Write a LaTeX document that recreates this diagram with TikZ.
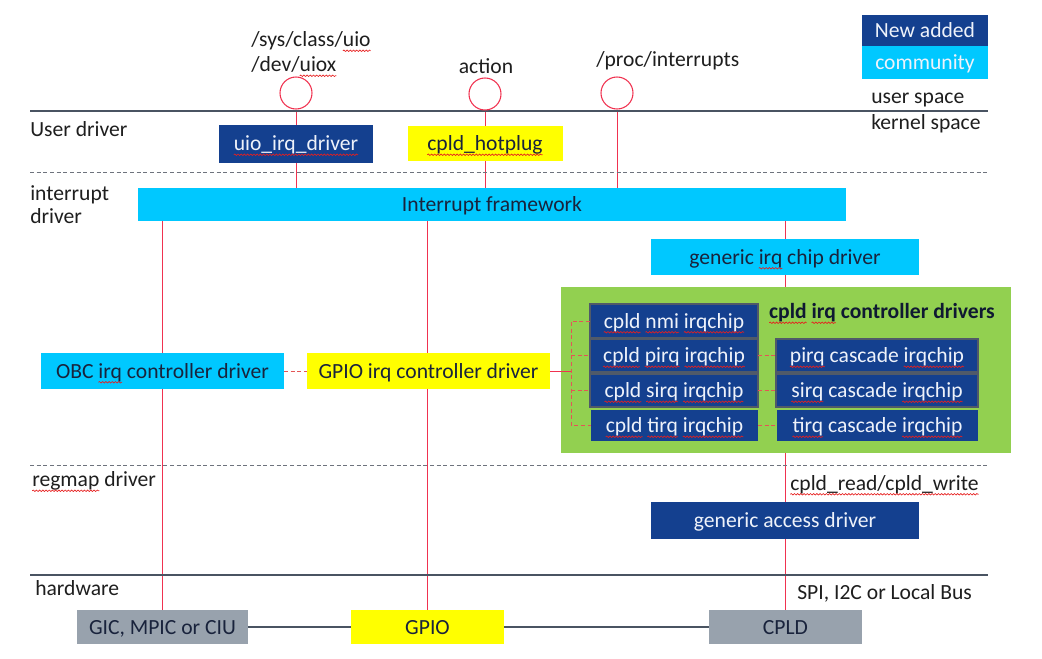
\documentclass[tikz,border=0pt]{standalone}
\usepackage{fontspec}
\setmainfont{Carlito}
\usetikzlibrary{decorations.pathmorphing}
\definecolor{navy}{RGB}{20,64,143}
\definecolor{cyanb}{RGB}{0,200,255}
\definecolor{yellowb}{RGB}{255,255,0}
\definecolor{greenb}{RGB}{146,208,80}
\definecolor{grayb}{RGB}{152,162,173}
\definecolor{linec}{RGB}{74,84,98}
\definecolor{dashc}{RGB}{110,115,125}
\definecolor{redc}{RGB}{240,50,80}
\definecolor{salmon}{RGB}{228,85,85}
\definecolor{framec}{RGB}{80,90,105}
\definecolor{boxtext}{RGB}{238,242,250}
\definecolor{dtext}{RGB}{25,35,60}
\definecolor{ltext}{RGB}{30,30,30}
\definecolor{titlec}{RGB}{15,25,50}
\definecolor{wavered}{RGB}{230,30,30}
\newsavebox\rwbox
\newcommand\rw[1]{\sbox\rwbox{#1}\rlap{\usebox\rwbox}\tikz[baseline=0pt]{\path[use as bounding box] (0pt,0pt) rectangle (\wd\rwbox,0pt);\draw[draw=wavered, fill=none, line width=0.5pt, decorate, decoration={snake, amplitude=0.55pt, segment length=2.4pt}] (0pt,-3.2pt) -- (\wd\rwbox,-3.2pt);}}
\pgfdeclarelayer{bg}
\pgfsetlayers{bg,main}
\tikzset{
  pb/.style 2 args={minimum width=#1*0.75pt, minimum height=#2*0.75pt, inner sep=0pt, outer sep=0pt, text height=12.5pt, text depth=2pt},
  nb/.style={fill=navy, text=boxtext},
  cy/.style={fill=cyanb, text=dtext},
  ye/.style={fill=yellowb, text=dtext},
  gy/.style={fill=grayb, text=dtext},
  chip/.style={fill=navy, text=boxtext, draw=framec, line width=1.5pt},
  chipn/.style={fill=navy, text=boxtext},
  lbl/.style={text=ltext, inner sep=0pt, anchor=base west},
  redl/.style={draw=redc, line width=0.75pt},
  redd/.style={draw=salmon, line width=0.75pt, dash pattern=on 3pt off 2pt},
  sepl/.style={draw=linec, line width=1.5pt},
  sepd/.style={draw=dashc, line width=0.75pt, dash pattern=on 3pt off 2pt},
  hwl/.style={draw=linec, line width=0.9pt},
  ring/.style={circle, draw=redc, line width=0.8pt, minimum size=32*0.75pt, inner sep=0pt}
}
\begin{document}
\begin{tikzpicture}[x=0.75pt, y=-0.75pt, font=\fontsize{16.2}{19}\selectfont]
\useasboundingbox (0,0) rectangle (1042,658);

% separators
\draw[sepl] (30,111) -- (988,111);
\draw[sepd] (30,172) -- (988,172);
\draw[sepd] (30,465) -- (988,465);
\draw[draw=linec, line width=2.2pt] (30,575) -- (988,575);

% legend
\node[nb, pb={126}{31}] (lnew) at (925,30.5) {New added};
\node[cy, pb={126}{33}, text=boxtext] (lcom) at (925,62.5) {community};
\node[lbl] (us) at (871,103) {user space};
\node[lbl] (ks) at (871,129) {kernel space};

% layer labels
\node[lbl] (ud) at (30,136.5) {User driver};
\node[lbl] (id1) at (30,200.5) {interrupt};
\node[lbl] (id2) at (30,223) {driver};
\node[lbl] (rd) at (32,486.5) {\rw{regmap} driver};
\node[lbl] (hw) at (35,595) {hardware};

% top labels and rings
\node[lbl] (t1) at (251,46.5) {/sys/class/\rw{uio}};
\node[lbl] (t2) at (251,71.5) {/dev/\rw{uiox}};
\node[text=ltext, inner sep=0pt, anchor=base] (t3) at (486,73) {action};
\node[lbl] (t4) at (596,66.5) {/proc/interrupts};
\node[ring] (c1) at (296,93) {};
\node[ring] (c2) at (485,94) {};
\node[ring] (c3) at (617,93) {};

% user drivers
\node[nb, pb={154}{38}] (uio) at (296,143.5) {\rw{uio\_irq\_driver}};
\node[ye, pb={155}{35}] (hp) at (485,143.5) {\rw{cpld\_hotplug}};

% framework
\node[cy, pb={708}{33}] (fw) at (492,204.5) {Interrupt framework};
\node[cy, pb={268}{36}] (gicd) at (785,257) {generic \rw{irq} chip driver};

% green group
\node[fill=greenb, pb={450}{166}] (grp) at (786,370) {};
\node[text=titlec, inner sep=0pt, anchor=base, font=\fontsize{16.2}{19}\selectfont\bfseries] (ttl) at (882,318.5) {\rw{cpld} \rw{irq} controller drivers};
\node[chip, pb={168}{34}] (nmi) at (674,321) {\rw{cpld} \rw{nmi} \rw{irqchip}};
\node[chip, pb={168}{33}] (pirq) at (674,355.5) {\rw{cpld} \rw{pirq} \rw{irqchip}};
\node[chip, pb={168}{33}] (sirq) at (674,390.5) {\rw{cpld} \rw{sirq} \rw{irqchip}};
\node[chipn, pb={167}{31}] (tirq) at (674.5,425.5) {\rw{cpld} \rw{tirq} \rw{irqchip}};
\node[chip, pb={202}{33}] (pc) at (877,355.5) {\rw{pirq} cascade \rw{irqchip}};
\node[chip, pb={202}{33}] (sc) at (877,390.5) {\rw{sirq} cascade \rw{irqchip}};
\node[chipn, pb={201}{31}] (tc) at (877.5,425.5) {\rw{tirq} cascade \rw{irqchip}};

% controllers
\node[cy, pb={243}{36}] (obc) at (162.5,371) {OBC \rw{irq} controller driver};
\node[ye, pb={243}{36}] (gpirq) at (428.5,371) {GPIO irq controller driver};

% regmap
\node[lbl] (rw) at (790,490) {\rw{cpld\_read/cpld\_write}};
\node[nb, pb={268}{37}] (gad) at (785,520.5) {generic access driver};

% hardware
\node[lbl] (bus) at (797,599.5) {SPI, I2C or Local Bus};
\node[gy, pb={171}{34}] (gic) at (162.5,627) {GIC, MPIC or CIU};
\node[ye, pb={153}{34}] (gpio) at (427.5,627) {GPIO};
\node[gy, pb={153}{34}] (cpld) at (785.5,627) {CPLD};

% red vertical connectors (behind boxes)
\begin{pgfonlayer}{bg}
\draw[redl] (c1.south) -- (c1.south |- fw.north);
\draw[redl] (c2.south) -- (c2.south |- fw.north);
\draw[redl] (c3.south) -- (c3.south |- fw.north);
\draw[redl] (gic.north) -- (gic.north |- fw.south);
\draw[redl] (gpio.north) -- (gpio.north |- fw.south);
\draw[redl] (cpld.north) -- (cpld.north |- fw.south);
\end{pgfonlayer}

% bracket to chips
\coordinate (bx) at (571,371);
\draw[redl] (gpirq.east) -- (bx);
\draw[redd] (nmi.west) -- (nmi.west -| bx) -- (tirq.west -| bx) -- (tirq.west);
\draw[redd] (pirq.west -| bx) -- (pirq.west);
\draw[redd] (sirq.west -| bx) -- (sirq.west);
\draw[redd] (pirq.east) -- (pc.west);
\draw[redd] (sirq.east) -- (sc.west);
\draw[redd] (tirq.east) -- (tc.west);
\draw[redd] (obc.east) -- (gpirq.west);

% hardware bus
\draw[hwl] (gic.east) -- (gpio.west);
\draw[hwl] (gpio.east) -- (cpld.west);
\end{tikzpicture}
\end{document}
